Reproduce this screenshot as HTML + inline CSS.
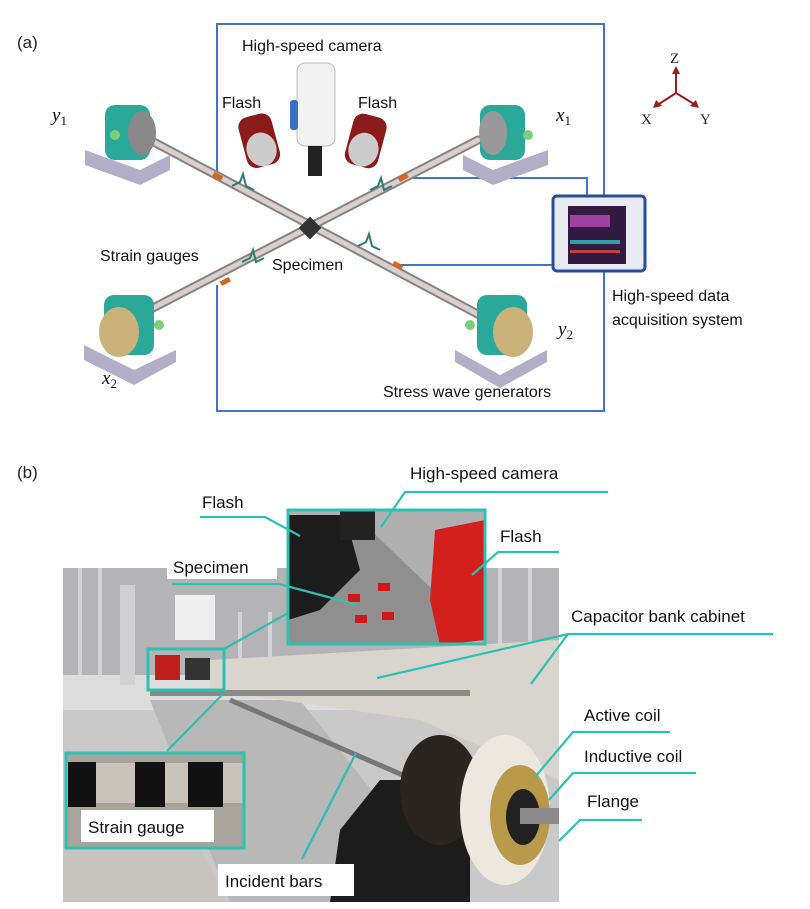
<!DOCTYPE html>
<html><head><meta charset="utf-8"><style>
html,body{margin:0;padding:0;background:#fff;}
svg{display:block;font-family:"Liberation Sans",sans-serif;}
</style></head><body>
<svg width="810" height="909" viewBox="0 0 810 909" xmlns="http://www.w3.org/2000/svg">
<rect width="810" height="909" fill="#fff"/>
<!-- (a) -->
<text x="17" y="48" font-size="17" fill="#222">(a)</text>
<g stroke="#4472c4" stroke-width="2" fill="none">
<polyline points="217,172 217,24 604,24 604,196"/>
<polyline points="604,268 604,411 217,411 217,285"/>
<polyline points="413,178 587,178 587,198"/>
<polyline points="400,265 583,265 583,258"/>
</g>
<g stroke-linecap="round">
<line x1="150" y1="140" x2="485" y2="318" stroke="#8a8080" stroke-width="9"/>
<line x1="150" y1="140" x2="485" y2="318" stroke="#d8d0d0" stroke-width="5"/>
<line x1="478" y1="140" x2="120" y2="325" stroke="#8a8080" stroke-width="9"/>
<line x1="478" y1="140" x2="120" y2="325" stroke="#d8d0d0" stroke-width="5"/>
</g>
<rect x="302" y="220" width="16" height="16" fill="#333" transform="rotate(45 310 228)"/>
<g fill="#d2691e"><rect x="213" y="174" width="10" height="5" transform="rotate(28 218 176)"/><rect x="398" y="175" width="10" height="5" transform="rotate(-28 403 177)"/><rect x="220" y="279" width="10" height="5" transform="rotate(-28 225 281)"/><rect x="393" y="263" width="10" height="5" transform="rotate(28 398 265)"/></g>
<g stroke="#2e7d6b" stroke-width="2" fill="none">
<path d="M232,186 l8,-4 l3,-8 l3,12 l8,4"/><path d="M370,190 l8,-4 l3,-8 l3,12 l8,-4"/><path d="M242,262 l8,-4 l3,-8 l3,12 l8,-4"/><path d="M358,246 l8,-4 l3,-8 l3,12 l8,4"/>
</g>
<g>
<g transform="translate(80,95)"><path d="M5,55 L60,75 L90,60 L90,75 L60,90 L5,70 Z" fill="#b3aec8"/><rect x="25" y="10" width="45" height="55" rx="10" fill="#2aa89a"/><ellipse cx="62" cy="38" rx="14" ry="22" fill="#888"/><circle cx="35" cy="40" r="5" fill="#7ad07a"/></g>
<g transform="translate(458,95)"><path d="M5,60 L35,75 L90,55 L90,70 L35,90 L5,75 Z" fill="#b3aec8"/><rect x="22" y="10" width="45" height="55" rx="10" fill="#2aa89a"/><ellipse cx="35" cy="38" rx="14" ry="22" fill="#999"/><circle cx="70" cy="40" r="5" fill="#7ad07a"/></g>
<g transform="translate(84,290)"><path d="M0,55 L50,80 L92,60 L92,72 L50,95 L0,70 Z" fill="#b3aec8"/><rect x="20" y="5" width="50" height="60" rx="10" fill="#2aa89a"/><ellipse cx="35" cy="42" rx="20" ry="25" fill="#c8b27a"/><circle cx="75" cy="35" r="5" fill="#7ad07a"/></g>
<g transform="translate(455,290)"><path d="M0,60 L45,85 L92,60 L92,72 L45,98 L0,72 Z" fill="#b3aec8"/><rect x="22" y="5" width="50" height="60" rx="10" fill="#2aa89a"/><ellipse cx="58" cy="42" rx="20" ry="25" fill="#c8b27a"/><circle cx="15" cy="35" r="5" fill="#7ad07a"/></g>
</g>
<rect x="297" y="63" width="38" height="83" rx="8" fill="#f2f2f2" stroke="#bbb"/>
<rect x="290" y="100" width="8" height="30" rx="3" fill="#3a6fc0"/>
<rect x="308" y="146" width="14" height="30" fill="#222"/>
<g transform="rotate(-15 258 140)"><rect x="242" y="115" width="34" height="52" rx="10" fill="#8b1a1a"/><ellipse cx="259" cy="150" rx="15" ry="17" fill="#ccc"/></g>
<g transform="rotate(15 366 140)"><rect x="349" y="115" width="34" height="52" rx="10" fill="#8b1a1a"/><ellipse cx="366" cy="150" rx="15" ry="17" fill="#ccc"/></g>
<rect x="553" y="196" width="92" height="75" rx="4" fill="#e8eaf2" stroke="#2a4d9a" stroke-width="3"/>
<rect x="568" y="206" width="58" height="58" fill="#331a40"/>
<rect x="570" y="215" width="40" height="12" fill="#a040a0"/>
<rect x="570" y="240" width="50" height="4" fill="#30a0a0"/>
<rect x="570" y="250" width="50" height="3" fill="#c04040"/>
<g stroke="#9b1c1c" stroke-width="2" fill="#9b1c1c">
<line x1="676" y1="93" x2="676" y2="72"/><line x1="676" y1="93" x2="659" y2="104"/><line x1="676" y1="93" x2="694" y2="104"/>
<path d="M672,74 L676,66 L680,74 Z" stroke="none"/><path d="M656,100 L653,108 L662,106 Z" stroke="none"/><path d="M690,106 L699,108 L696,100 Z" stroke="none"/>
</g>
<g font-family="Liberation Serif,serif" font-size="15" fill="#222"><text x="670" y="63">Z</text><text x="641" y="124">X</text><text x="700" y="124">Y</text></g>
<g font-size="16" fill="#111">
<text x="242" y="51">High-speed camera</text>
<text x="222" y="108">Flash</text><text x="358" y="108">Flash</text>
<text x="100" y="261">Strain gauges</text>
<text x="272" y="270">Specimen</text>
<text x="612" y="301">High-speed data</text>
<text x="612" y="325">acquisition system</text>
<text x="383" y="397">Stress wave generators</text>
</g>
<g font-family="Liberation Serif,serif" font-style="italic" font-size="19" fill="#111">
<text x="52" y="121">y<tspan font-size="13" font-style="normal" dy="4">1</tspan></text>
<text x="556" y="121">x<tspan font-size="13" font-style="normal" dy="4">1</tspan></text>
<text x="102" y="384">x<tspan font-size="13" font-style="normal" dy="4">2</tspan></text>
<text x="558" y="335">y<tspan font-size="13" font-style="normal" dy="4">2</tspan></text>
</g>

<!-- (b) -->
<text x="17" y="478" font-size="17" fill="#222">(b)</text>
<rect x="63" y="568" width="496" height="334" fill="#c9c9c9"/>
<rect x="63" y="568" width="496" height="110" fill="#b4b4b6"/>
<g stroke="#d4d4d6" stroke-width="4">
<line x1="80" y1="568" x2="80" y2="675"/><line x1="100" y1="568" x2="100" y2="675"/><line x1="240" y1="612" x2="240" y2="675"/><line x1="270" y1="612" x2="270" y2="675"/><line x1="500" y1="568" x2="500" y2="650"/><line x1="530" y1="568" x2="530" y2="650"/>
</g>
<rect x="63" y="675" width="496" height="35" fill="#dcdcdc"/>
<polygon points="150,700 300,700 460,902 230,902" fill="#b8b8b8"/>
<polygon points="63,800 150,760 230,902 63,902" fill="#c8c5c0"/>
<polygon points="210,660 559,640 559,780 420,720 210,690" fill="#d8d5cf"/>
<rect x="150" y="690" width="320" height="6" fill="#8a8a8a"/>
<line x1="230" y1="700" x2="460" y2="800" stroke="#777" stroke-width="5"/>
<polygon points="340,830 380,780 470,780 470,902 330,902" fill="#1c1c1c"/>
<ellipse cx="440" cy="790" rx="40" ry="55" fill="#2a2520"/>
<ellipse cx="505" cy="810" rx="45" ry="75" fill="#ece8e0"/>
<ellipse cx="520" cy="815" rx="30" ry="50" fill="#b89a4a"/>
<ellipse cx="523" cy="817" rx="17" ry="28" fill="#222"/>
<rect x="520" y="808" width="39" height="16" fill="#8a8a8a"/>
<rect x="120" y="585" width="15" height="100" fill="#d0d0d0"/>
<rect x="175" y="595" width="40" height="45" fill="#eee"/>
<rect x="148" y="649" width="76" height="41" fill="none" stroke="#2ec0b0" stroke-width="3"/>
<rect x="155" y="655" width="25" height="25" fill="#c0201c"/>
<rect x="185" y="658" width="25" height="22" fill="#333"/>
<rect x="288" y="510" width="197" height="134" fill="#b0b0b0"/>
<polygon points="288,600 360,520 485,640 430,644 288,644" fill="#8f8f8f"/>
<polygon points="288,515 345,515 360,570 320,610 288,620" fill="#1c1c1c"/>
<rect x="340" y="510" width="35" height="30" fill="#222"/>
<polygon points="435,530 485,520 485,640 440,645 430,600" fill="#d41f1f"/>
<rect x="348" y="594" width="12" height="8" fill="#d01818"/><rect x="378" y="583" width="12" height="8" fill="#d01818"/><rect x="355" y="615" width="12" height="8" fill="#d01818"/><rect x="382" y="612" width="12" height="8" fill="#d01818"/>
<rect x="288" y="510" width="197" height="134" fill="none" stroke="#2ec0b0" stroke-width="3"/>
<rect x="66" y="753" width="178" height="95" fill="#a8a49c"/>
<rect x="66" y="763" width="178" height="40" fill="#c8c4bc"/>
<rect x="68" y="762" width="28" height="45" fill="#111"/><rect x="135" y="762" width="30" height="45" fill="#111"/><rect x="188" y="762" width="35" height="45" fill="#111"/>
<rect x="66" y="753" width="178" height="95" fill="none" stroke="#2ec0b0" stroke-width="3"/>
<rect x="81" y="810" width="133" height="32" fill="#fff"/>
<text x="88" y="833" font-size="17" fill="#111">Strain gauge</text>
<rect x="167" y="554" width="110" height="25" fill="#fff"/>
<text x="173" y="573" font-size="17" fill="#111">Specimen</text>
<rect x="218" y="864" width="136" height="32" fill="#fff"/>
<text x="225" y="887" font-size="17" fill="#111">Incident bars</text>
<g stroke="#2ec0b0" stroke-width="2.2" fill="none">
<polyline points="608,492 405,492 381,527"/>
<polyline points="200,517 265,517 300,536"/>
<polyline points="559,552 498,552 472,575"/>
<polyline points="172,584 279,584 358,605"/>
<line x1="288" y1="613" x2="224" y2="649"/>
<polyline points="773,634 568,634 377,678"/>
<line x1="568" y1="634" x2="531" y2="684"/>
<polyline points="670,732 573,732 535,777"/>
<polyline points="696,773 573,773 549,800"/>
<polyline points="642,820 580,820 559,841"/>
<line x1="167" y1="751" x2="223" y2="694"/>
<line x1="302" y1="859" x2="356" y2="753"/>
</g>
<g font-size="17" fill="#111">
<text x="410" y="479">High-speed camera</text>
<text x="202" y="508">Flash</text>
<text x="500" y="542">Flash</text>
<text x="571" y="622">Capacitor bank cabinet</text>
<text x="584" y="721">Active coil</text>
<text x="584" y="762">Inductive coil</text>
<text x="587" y="807">Flange</text>
</g>
</svg>
</body></html>
